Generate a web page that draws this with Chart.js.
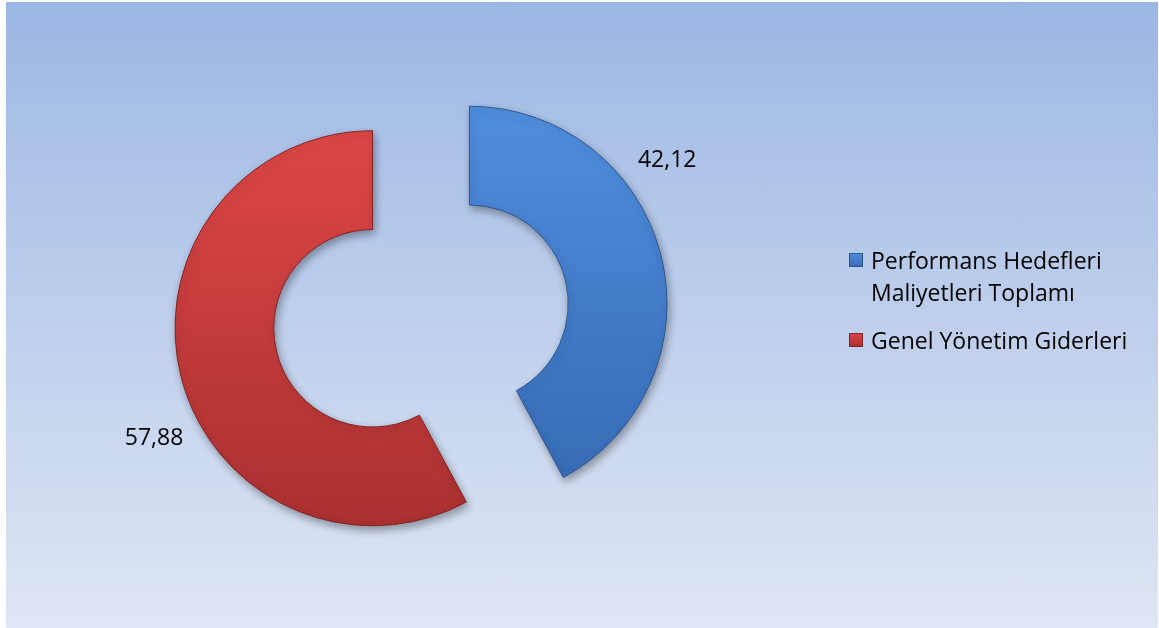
<!DOCTYPE html>
<html>
<head>
<meta charset="utf-8">
<script src="https://cdn.jsdelivr.net/npm/chart.js@4/dist/chart.umd.min.js"></script>
<style>
body { margin: 0; background: #fff; }
#bg { position: absolute; left: 6px; top: 2px; width: 1152px; height: 626px; background: linear-gradient(#9cb7e3, #dfe6f4); }
#wrap { position: absolute; left: 0; top: 0; width: 1159px; height: 628px; }
</style>
</head>
<body>
<div id="bg"></div>
<div id="wrap"><canvas id="myChart"></canvas></div>
<script>
var categories = [['Performans Hedefleri', 'Maliyetleri Toplamı'], 'Genel Yönetim Giderleri'];
var values = [42.12, 57.88];

var topColors = ['#4f8ede', '#de4646'];
var bottomColors = ['#3669b3', '#aa3030'];
var edgeColors = ['#2b568f', '#832424'];
var FONT = '"Open Sans", sans-serif';
var EXPLODE = 50; // px each slice is pulled out from the centre

function fillFor(c) {
    var area = c.chart.chartArea;
    if (!area) return topColors[c.dataIndex];
    var g = c.chart.ctx.createLinearGradient(0, area.top, 0, area.bottom);
    g.addColorStop(0, topColors[c.dataIndex]);
    g.addColorStop(1, bottomColors[c.dataIndex]);
    return g;
}

// soft shadow under the slices
var shadowPlugin = {
    id: 'shadow',
    beforeDatasetsDraw: function(chart) {
        var ctx = chart.ctx;
        ctx.save();
        ctx.shadowColor = 'rgba(0,0,0,0.35)';
        ctx.shadowBlur = 8;
        ctx.shadowOffsetX = 2;
        ctx.shadowOffsetY = 4;
    },
    afterDatasetsDraw: function(chart) {
        chart.ctx.restore();
    }
};

// pull every slice out along its middle angle (Chart.js offset also grows the radius)
var explode = {
    id: 'explode',
    beforeDatasetDraw: function(chart, args) {
        var ctx = chart.ctx;
        args.meta.data.forEach(function(arc) {
            var mid = (arc.startAngle + arc.endAngle) / 2;
            ctx.save();
            ctx.translate(Math.cos(mid) * EXPLODE, Math.sin(mid) * EXPLODE);
            arc.draw(ctx, chart.chartArea);
            ctx.restore();
        });
        return false;
    }
};

// value labels outside each slice
var valueLabels = {
    id: 'valueLabels',
    afterDatasetsDraw: function(chart, args, opts) {
        var ctx = chart.ctx;
        var meta = chart.getDatasetMeta(0);
        ctx.save();
        ctx.font = opts.size + 'px ' + FONT;
        ctx.fillStyle = '#000';
        ctx.textAlign = 'center';
        ctx.textBaseline = 'middle';
        meta.data.forEach(function(arc, i) {
            var p = arc.getProps(['x', 'y', 'startAngle', 'endAngle', 'outerRadius'], true);
            var mid = (p.startAngle + p.endAngle) / 2;
            var cx = p.x + Math.cos(mid) * EXPLODE;
            var cy = p.y + Math.sin(mid) * EXPLODE;
            var a = p.startAngle + (p.endAngle - p.startAngle) * opts.at[i];
            var r = p.outerRadius + opts.gap;
            var txt = values[i].toFixed(2).replace('.', ',');
            ctx.fillText(txt, cx + Math.cos(a) * r, cy + Math.sin(a) * r);
        });
        ctx.restore();
    }
};

// legend on the right, labels may span two lines
var sideLegend = {
    id: 'sideLegend',
    afterDraw: function(chart, args, opts) {
        var ctx = chart.ctx;
        ctx.save();
        ctx.font = opts.size + 'px ' + FONT;
        ctx.textBaseline = 'alphabetic';
        ctx.textAlign = 'left';
        var y = opts.top;
        chart.data.labels.forEach(function(lab, i) {
            var lines = Array.isArray(lab) ? lab : [lab];
            var g = ctx.createLinearGradient(0, y - 16, 0, y - 2);
            g.addColorStop(0, topColors[i]);
            g.addColorStop(1, bottomColors[i]);
            ctx.fillStyle = g;
            ctx.fillRect(opts.left, y - 16, 14, 14);
            ctx.strokeStyle = edgeColors[i];
            ctx.lineWidth = 1;
            ctx.strokeRect(opts.left + 0.5, y - 15.5, 13, 13);
            ctx.fillStyle = '#000';
            lines.forEach(function(t, k) {
                ctx.fillText(t, opts.left + 22, y + k * opts.lineHeight);
            });
            y += (lines.length - 1) * opts.lineHeight + opts.itemGap;
        });
        ctx.restore();
    }
};

var ctx = document.getElementById('myChart').getContext('2d');
var myChart = new Chart(ctx, {
    type: 'doughnut',
    data: {
        labels: categories,
        datasets: [{
            data: values,
            backgroundColor: fillFor,
            borderColor: edgeColors,
            borderWidth: 1
        }]
    },
    options: {
        responsive: true,
        maintainAspectRatio: false,
        animation: false,
        cutout: '50%',
        layout: { padding: { left: 223, right: 540, top: 118, bottom: 114 } },
        plugins: {
            legend: { display: false },
            tooltip: { enabled: false },
            valueLabels: { size: 23, gap: 47, at: [0.356, 0.44] },
            sideLegend: { size: 23, left: 849, top: 269, lineHeight: 32, itemGap: 48 }
        }
    },
    plugins: [shadowPlugin, explode, valueLabels, sideLegend]
});
</script>
</body>
</html>
